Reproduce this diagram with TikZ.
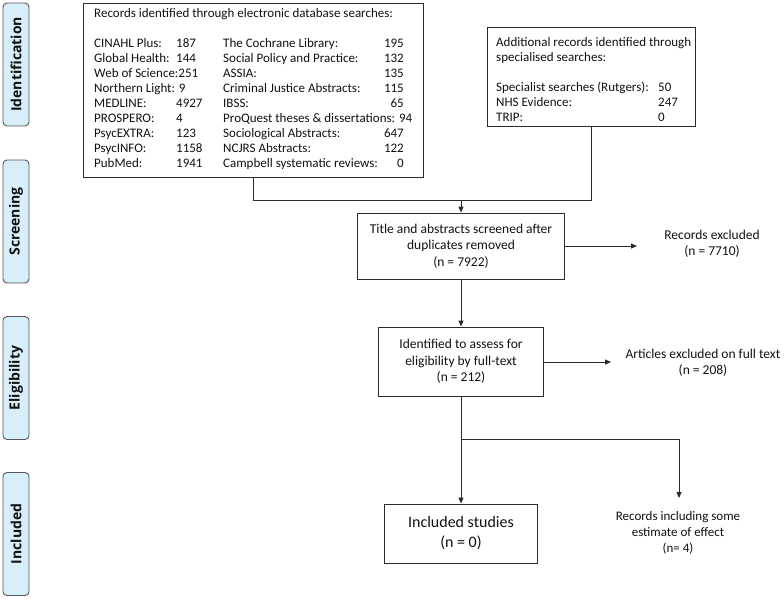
\documentclass[tikz,border=0pt]{standalone}
\usepackage{fontspec}
\setmainfont{Carlito}
\newfontfamily\labfont{Open Sans}
\usetikzlibrary{arrows.meta}
\definecolor{lablue}{HTML}{D8EFFA}
\definecolor{lnc}{HTML}{2B2B2B}
\definecolor{txc}{HTML}{111111}
\tikzset{
  phase/.style={draw=lnc!80, fill=lablue, rounded corners=4pt, rotate=90, minimum width=123pt, minimum height=26pt, inner sep=0pt, font=\labfont\bfseries\fontsize{14}{16}\selectfont, text=txc, line width=0.9pt},
  box/.style={draw=lnc, line width=0.9pt, inner sep=0pt, align=center, text=txc},
  txt/.style={inner sep=0pt, text=txc, font=\fontsize{13}{15}\selectfont},
  ctxt/.style={inner sep=0pt, text=txc, align=center},
  conn/.style={draw=lnc, line width=0.9pt},
  arr/.style={conn, -{Triangle[length=6pt,width=5pt]}},
}
\begin{document}
\begin{tikzpicture}[x=1pt,y=-1pt]
\useasboundingbox (0,0) rectangle (784,598);
% phase labels
\node[phase] (pid) at (16,64.5) {Identification};
\node[phase] (psc) at (16,221.5) {Screening};
\node[phase] (pel) at (16,378) {Eligibility};
\node[phase] (pin) at (16,534) {Included};
% database box
\node[box, minimum width=340pt, minimum height=174pt] (db) at (253,90) {};
\node[txt, anchor=base west] (dbh) at (94,17) {Records identified through electronic database searches:};
\foreach \n/\t/\v [count=\i] in {a/CINAHL Plus:/187, b/Global Health:/144, c/Web of Science:251/, d/Northern Light: 9/, e/MEDLINE:/4927, f/PROSPERO:/4, g/PsycEXTRA:/123, h/PsycINFO:/1158, k/PubMed:/1941}{
  \node[txt, anchor=base west] (l\n) at (94,{32+15*\i}) {\t};
  \node[txt, anchor=base west] (lv\n) at (176,{32+15*\i}) {\v};
}
\foreach \n/\t/\v [count=\i] in {a/The Cochrane Library:/195, b/Social Policy and Practice:/132, c/ASSIA:/135, d/Criminal Justice Abstracts:/115, e/IBSS:/65, g/Sociological Abstracts:/647, h/NCJRS Abstracts:/122, k/Campbell systematic reviews:/0}{
  \pgfmathtruncatemacro{\r}{\i>5 ? \i+1 : \i}
  \node[txt, anchor=base west] (m\n) at (223,{32+15*\r}) {\t};
  \node[txt, anchor=base east] (mv\n) at (404,{32+15*\r}) {\v};
}
\node[txt, anchor=base west] (mf) at (223,122) {ProQuest theses \& dissertations: 94};
% additional box
\node[box, minimum width=208pt, minimum height=99pt] (add) at (591,76.5) {};
\node[txt, anchor=base west] (ad1) at (496,46) {Additional records identified through};
\node[txt, anchor=base west] (ad2) at (496,61) {specialised searches:};
\node[txt, anchor=base west] (ad3) at (496,91) {Specialist searches (Rutgers):};
\node[txt, anchor=base west] (ad4) at (496,106) {NHS Evidence:};
\node[txt, anchor=base west] (ad5) at (496,121) {TRIP:};
\node[txt, anchor=base west] (av3) at (658,91) {50};
\node[txt, anchor=base west] (av4) at (658,106) {247};
\node[txt, anchor=base west] (av5) at (658,121) {0};
% flow boxes
\node[box, minimum width=207pt, minimum height=66pt, font=\fontsize{13.5}{16.5}\selectfont] (scr) at (461,246)
  {Title and abstracts screened after\\duplicates removed\\(n = 7922)};
\node[box, minimum width=165pt, minimum height=69pt, font=\fontsize{13.5}{16.5}\selectfont] (eli) at (461,361.5)
  {Identified to assess for\\eligibility by full-text\\(n = 212)};
\node[box, minimum width=153pt, minimum height=59pt, font=\fontsize{16}{20}\selectfont] (inc) at (461,533.5)
  {Included studies\\(n = 0)};
\node[ctxt, font=\fontsize{13.5}{16}\selectfont] (ex1) at (712,244) {Records excluded\\(n = 7710)};
\node[ctxt, font=\fontsize{13.5}{16}\selectfont] (ex2) at (703,363) {Articles excluded on full text\\(n = 208)};
\node[ctxt, font=\fontsize{13}{16}\selectfont] (est) at (678,533) {Records including some\\estimate of effect\\(n= 4)};
% connectors
\coordinate (merge) at (461,200);
\coordinate (ex1in) at (637,246);
\coordinate (ex2in) at (611,362);
\coordinate (split) at (461,439);
\coordinate (estin) at (679,498);
\draw[conn] (db.south) -- (db.south |- merge) -- (add.south |- merge) -- (add.south);
\draw[arr] (merge) -- (scr.north);
\draw[arr] (scr.east) -- (ex1in);
\draw[arr] (scr.south) -- (eli.north);
\draw[arr] (eli.east |- ex2in) -- (ex2in);
\draw[conn] (eli.south) -- (split);
\draw[arr] (split) -- (inc.north);
\draw[arr] (split) -| (estin);
\end{tikzpicture}
\end{document}
